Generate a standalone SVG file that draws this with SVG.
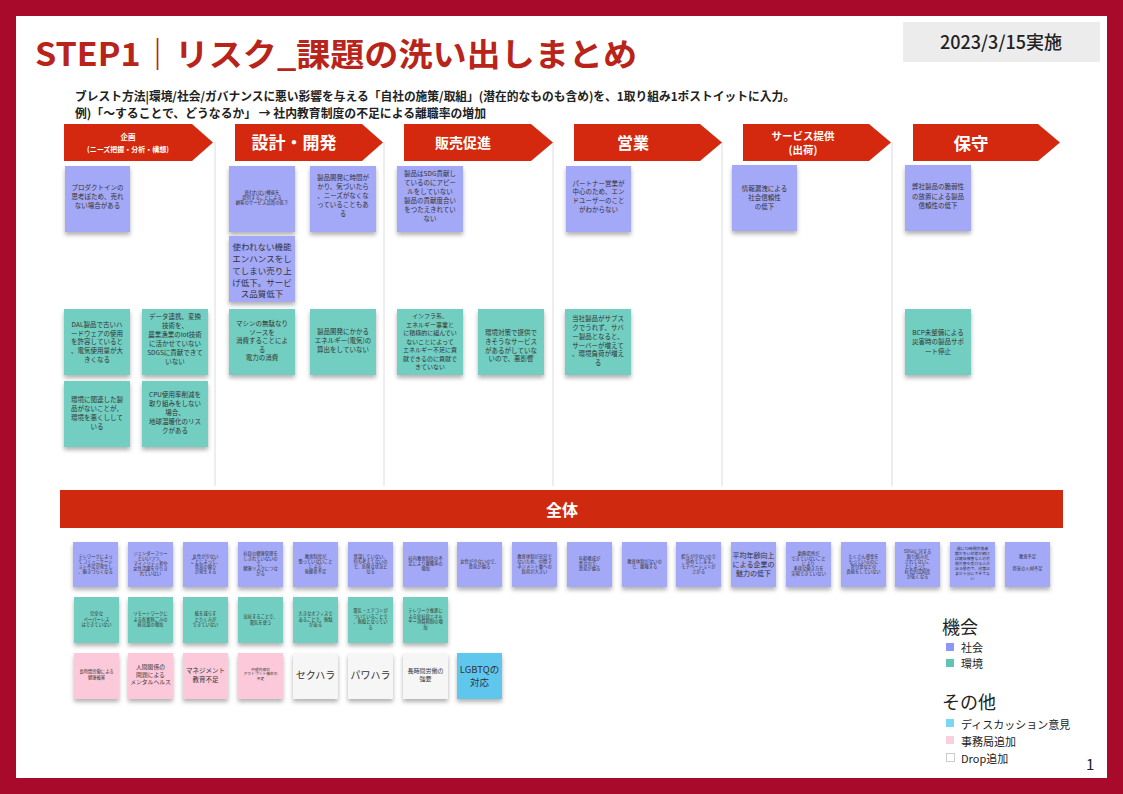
<svg xmlns="http://www.w3.org/2000/svg" width="1123" height="794" viewBox="0 0 1123 794">
<style>
text{font-family:"Noto Sans CJK JP","Noto Sans",sans-serif}
.hd{fill:#fff;font-weight:bold;text-anchor:middle}
.nt{fill:#333;text-anchor:middle;font-size:6.5px}
.xs{font-size:4.3px}
.pu{fill:#a3a8f7}
.te{fill:#71cec0}
.pk{fill:#fbc9da}
.wh{fill:#f6f6f6}
.bl{fill:#5ec7ee}
.arrow{fill:#d4290e}
.div{stroke:#dcdcdc;stroke-width:1}
.lg{fill:#222;font-size:11px}
</style>
<defs>
<filter id="sh" x="-20%" y="-20%" width="140%" height="150%">
<feDropShadow dx="0" dy="3" stdDeviation="2" flood-color="#000" flood-opacity="0.3"/>
</filter>
</defs>
<rect width="1123" height="794" fill="#a70a2b"/>
<rect x="16" y="16" width="1091" height="762" fill="#fff"/>
<text x="35" y="66" font-size="32" font-weight="bold" fill="#b8231a" textLength="602" lengthAdjust="spacingAndGlyphs">STEP1｜リスク_課題の洗い出しまとめ</text>
<rect x="903" y="22" width="197" height="40" fill="#ececec"/>
<text x="1001" y="49" font-size="18" font-weight="500" fill="#222" text-anchor="middle">2023/3/15実施</text>
<text x="75" y="101" font-size="12" font-weight="bold" fill="#222" textLength="720" lengthAdjust="spacingAndGlyphs">ブレスト方法|環境/社会/ガバナンスに悪い影響を与える「自社の施策/取組」(潜在的なものも含め)を、1取り組み1ポストイットに入力。</text>
<text x="75" y="118" font-size="12" font-weight="bold" fill="#222" textLength="411" lengthAdjust="spacingAndGlyphs">例)「〜することで、どうなるか」 → 社内教育制度の不足による離職率の増加</text>

<g id="dividers">
<line class="div" x1="215" y1="142" x2="215" y2="486"/>
<line class="div" x1="384" y1="142" x2="384" y2="486"/>
<line class="div" x1="553" y1="142" x2="553" y2="486"/>
<line class="div" x1="722" y1="142" x2="722" y2="486"/>
<line class="div" x1="892" y1="142" x2="892" y2="486"/>
</g>

<g id="phase1"><path class="arrow" d="M64,124H192L213,142.5L192,161H64Z"/><text class="hd" x="128" y="140" font-size="7.5">企画</text><text class="hd" x="128" y="152" font-size="7">(ニーズ把握・分析・構想)</text></g>
<g id="phase2"><path class="arrow" d="M235,124H362L383,142.5L362,161H235Z"/><text class="hd" x="294" y="149" font-size="17">設計・開発</text></g>
<g id="phase3"><path class="arrow" d="M404,124H531L553,142.5L531,161H404Z"/><text class="hd" x="463" y="148" font-size="14">販売促進</text></g>
<g id="phase4"><path class="arrow" d="M574,124H700L722,142.5L700,161H574Z"/><text class="hd" x="633" y="149" font-size="16">営業</text></g>
<g id="phase5"><path class="arrow" d="M743,124H869L891,142.5L869,161H743Z"/><text class="hd" x="803" y="140" font-size="10.5">サービス提供</text><text class="hd" x="803" y="154" font-size="10.5">(出荷)</text></g>
<g id="phase6"><path class="arrow" d="M913,124H1038L1060,142.5L1038,161H913Z"/><text class="hd" x="971" y="150" font-size="17.5">保守</text></g>

<g id="p1"><rect class="pu" x="65" y="166" width="65" height="66" filter="url(#sh)"/><text class="nt"><tspan x="97.5" y="190">プロダクトインの</tspan><tspan x="97.5" y="199">思考ぽため、売れ</tspan><tspan x="97.5" y="208">ない場合がある</tspan></text></g>
<g id="p2"><rect class="pu" x="229" y="166" width="66" height="66" filter="url(#sh)"/><text class="nt" style="font-size:4.4px"><tspan x="262" y="193.5">使われない機能を</tspan><tspan x="262" y="198.5">提供することによる</tspan><tspan x="262" y="203.5">顧客のサービス品質の低下</tspan></text></g>
<g id="p3"><rect class="pu" x="310" y="166" width="66" height="66" filter="url(#sh)"/><text class="nt"><tspan x="343" y="180">製品開発に時間が</tspan><tspan x="343" y="189">かり、気づいたら</tspan><tspan x="343" y="198">、ニーズがなくな</tspan><tspan x="343" y="207">っていることもあ</tspan><tspan x="343" y="216">る</tspan></text></g>
<g id="p4"><rect class="pu" x="229" y="236" width="66" height="66" filter="url(#sh)"/><text class="nt" style="font-size:8.5px"><tspan x="262" y="250">使われない機能</tspan><tspan x="262" y="262">エンハンスをし</tspan><tspan x="262" y="274">てしまい売り上</tspan><tspan x="262" y="286">げ低下。サービ</tspan><tspan x="262" y="297">ス品質低下</tspan></text></g>
<g id="p5"><rect class="pu" x="397" y="166" width="66" height="66" filter="url(#sh)"/><text class="nt"><tspan x="430" y="175.5">製品はSDG貢献し</tspan><tspan x="430" y="184.5">ているのにアピー</tspan><tspan x="430" y="193.5">ルをしていない</tspan><tspan x="430" y="202.5">製品の貢献度合い</tspan><tspan x="430" y="211.5">をつたえきれてい</tspan><tspan x="430" y="220.5">ない</tspan></text></g>
<g id="p6"><rect class="pu" x="566" y="166" width="65" height="66" filter="url(#sh)"/><text class="nt"><tspan x="598.5" y="185.5">パートナー営業が</tspan><tspan x="598.5" y="194.3">中心のため、エン</tspan><tspan x="598.5" y="203">ドユーザーのこと</tspan><tspan x="598.5" y="211.7">がわからない</tspan></text></g>
<g id="p7"><rect class="pu" x="732" y="165" width="65" height="66" filter="url(#sh)"/><text class="nt"><tspan x="764.5" y="191">情報漏洩による</tspan><tspan x="764.5" y="200">社会信頼性</tspan><tspan x="764.5" y="209">の低下</tspan></text></g>
<g id="p8"><rect class="pu" x="905" y="165" width="66" height="66" filter="url(#sh)"/><text class="nt"><tspan x="938" y="189">弊社製品の脆弱性</tspan><tspan x="938" y="198.5">の放置による製品</tspan><tspan x="938" y="208">信頼性の低下</tspan></text></g>

<g id="t1"><rect class="te" x="64" y="309" width="66" height="66" filter="url(#sh)"/><text class="nt"><tspan x="97" y="327">DAL製品で古いハ</tspan><tspan x="97" y="335.7">ードウェアの使用</tspan><tspan x="97" y="344.4">を許容していると</tspan><tspan x="97" y="353.1">、電気使用量が大</tspan><tspan x="97" y="361.8">きくなる</tspan></text></g>
<g id="t2"><rect class="te" x="142" y="309" width="66" height="66" filter="url(#sh)"/><text class="nt"><tspan x="175" y="319">データ連携、変換</tspan><tspan x="175" y="328">技術を、</tspan><tspan x="175" y="337">農業漁業のIot技術</tspan><tspan x="175" y="346">に活かせていない</tspan><tspan x="175" y="355">SDGSに貢献できて</tspan><tspan x="175" y="364">いない</tspan></text></g>
<g id="t3"><rect class="te" x="64" y="381" width="66" height="66" filter="url(#sh)"/><text class="nt"><tspan x="97" y="402">環境に関連した製</tspan><tspan x="97" y="411">品がないことが、</tspan><tspan x="97" y="420">環境を悪くしして</tspan><tspan x="97" y="429">いる</tspan></text></g>
<g id="t4"><rect class="te" x="142" y="381" width="66" height="66" filter="url(#sh)"/><text class="nt"><tspan x="175" y="397">CPU使用率削減を</tspan><tspan x="175" y="406">取り組みをしない</tspan><tspan x="175" y="415">場合、</tspan><tspan x="175" y="424">地球温暖化のリス</tspan><tspan x="175" y="433">クがある</tspan></text></g>
<g id="t5"><rect class="te" x="229" y="309" width="66" height="66" filter="url(#sh)"/><text class="nt"><tspan x="262" y="326">マシンの無駄なり</tspan><tspan x="262" y="334.5">ソースを</tspan><tspan x="262" y="343">消費することによ</tspan><tspan x="262" y="351.5">る</tspan><tspan x="262" y="360">電力の消費</tspan></text></g>
<g id="t6"><rect class="te" x="310" y="309" width="66" height="66" filter="url(#sh)"/><text class="nt"><tspan x="343" y="334">製品開発にかかる</tspan><tspan x="343" y="343">エネルギー(電気)の</tspan><tspan x="343" y="352">算出をしていない</tspan></text></g>
<g id="t7"><rect class="te" x="397" y="309" width="66" height="66" filter="url(#sh)"/><text class="nt" style="font-size:6px"><tspan x="430" y="318">インフラ系、</tspan><tspan x="430" y="326.5">エネルギー事業と</tspan><tspan x="430" y="335">に積極的に組んでい</tspan><tspan x="430" y="343.5">ないことによって</tspan><tspan x="430" y="352">エネルギー不足に貢</tspan><tspan x="430" y="360.5">献できるのに貢献で</tspan><tspan x="430" y="369">きていない</tspan></text></g>
<g id="t8"><rect class="te" x="478" y="309" width="66" height="66" filter="url(#sh)"/><text class="nt"><tspan x="511" y="335">環境対策で提供で</tspan><tspan x="511" y="344">きそうなサービス</tspan><tspan x="511" y="352.5">があるがしていな</tspan><tspan x="511" y="361">いので、悪影響</tspan></text></g>
<g id="t9"><rect class="te" x="565" y="309" width="66" height="66" filter="url(#sh)"/><text class="nt"><tspan x="598" y="321">当社製品がサブス</tspan><tspan x="598" y="330">クでうれず、サバ</tspan><tspan x="598" y="339">ー製品となると、</tspan><tspan x="598" y="347.5">サーバーが増えて</tspan><tspan x="598" y="356">、環境負荷が増え</tspan><tspan x="598" y="365">る</tspan></text></g>
<g id="t10"><rect class="te" x="905" y="309" width="66" height="66" filter="url(#sh)"/><text class="nt"><tspan x="938" y="335">BCP未整備による</tspan><tspan x="938" y="344">災害時の製品サポ</tspan><tspan x="938" y="354">ート停止</tspan></text></g>

<g id="zentai"><rect x="60" y="490" width="1003" height="38" fill="#cf2a10"/><text class="hd" x="562" y="516" font-size="16">全体</text></g>

<g id="r1-1"><rect class="pu" x="73" y="542" width="45" height="45" filter="url(#sh)"/><text class="nt xs"><tspan x="95.5" y="557.5">テレワークによっ</tspan><tspan x="95.5" y="562.5">てコミュニケーシ</tspan><tspan x="95.5" y="567.5">ョン不足が発生し</tspan><tspan x="95.5" y="572.5">、働きづらくなる</tspan></text></g>
<g id="r1-2"><rect class="pu" x="128" y="542" width="45" height="45" filter="url(#sh)"/><text class="nt xs"><tspan x="150.5" y="555">ジェンダーフリー</tspan><tspan x="150.5" y="560">といいつつ、</tspan><tspan x="150.5" y="565">マイノリティ者や</tspan><tspan x="150.5" y="570">女性活躍を守りき</tspan><tspan x="150.5" y="575">れていない</tspan></text></g>
<g id="r1-3"><rect class="pu" x="183" y="542" width="45" height="45" filter="url(#sh)"/><text class="nt xs"><tspan x="205.5" y="557.5">女性が少ない</tspan><tspan x="205.5" y="562.5">ことによって、</tspan><tspan x="205.5" y="567.5">意見の偏り</tspan><tspan x="205.5" y="572.5">が発生する</tspan></text></g>
<g id="r1-4"><rect class="pu" x="238" y="542" width="45" height="45" filter="url(#sh)"/><text class="nt xs"><tspan x="260.5" y="555">社員の健康管理を</tspan><tspan x="260.5" y="560">しきれていないの</tspan><tspan x="260.5" y="565">で、</tspan><tspan x="260.5" y="570">健康リスクにつな</tspan><tspan x="260.5" y="575">がる</tspan></text></g>
<g id="r1-5"><rect class="pu" x="293" y="542" width="45" height="45" filter="url(#sh)"/><text class="nt xs"><tspan x="315.5" y="557.5">教育制度が</tspan><tspan x="315.5" y="562.5">整っていないこと</tspan><tspan x="315.5" y="567.5">による</tspan><tspan x="315.5" y="572.5">後継者不足</tspan></text></g>
<g id="r1-6"><rect class="pu" x="348" y="542" width="45" height="45" filter="url(#sh)"/><text class="nt xs"><tspan x="370.5" y="557.5">意識していない、</tspan><tspan x="370.5" y="562.5">何も考えてないの</tspan><tspan x="370.5" y="567.5">で、危険な状況と</tspan><tspan x="370.5" y="572.5">なる</tspan></text></g>
<g id="r1-7"><rect class="pu" x="403" y="542" width="45" height="45" filter="url(#sh)"/><text class="nt xs"><tspan x="425.5" y="560">社内教育制度の不</tspan><tspan x="425.5" y="565">足により離職率の</tspan><tspan x="425.5" y="570">増加</tspan></text></g>
<g id="r1-8"><rect class="pu" x="457" y="542" width="45" height="45" filter="url(#sh)"/><text class="nt xs"><tspan x="479.5" y="562.5">女性が少ないので、</tspan><tspan x="479.5" y="567.5">意見が偏る</tspan></text></g>
<g id="r1-9"><rect class="pu" x="512" y="542" width="45" height="45" filter="url(#sh)"/><text class="nt xs"><tspan x="534.5" y="557.5">教育体制が充分で</tspan><tspan x="534.5" y="562.5">ないため、中間マ</tspan><tspan x="534.5" y="567.5">ネジメント層への</tspan><tspan x="534.5" y="572.5">負荷が大きい</tspan></text></g>
<g id="r1-10"><rect class="pu" x="567" y="542" width="45" height="45" filter="url(#sh)"/><text class="nt xs"><tspan x="589.5" y="560">年齢構成が</tspan><tspan x="589.5" y="565">歪なので、</tspan><tspan x="589.5" y="570">意見が偏る</tspan></text></g>
<g id="r1-11"><rect class="pu" x="622" y="542" width="45" height="45" filter="url(#sh)"/><text class="nt xs"><tspan x="644.5" y="562.5">教育体制がないの</tspan><tspan x="644.5" y="567.5">で、離職する</tspan></text></g>
<g id="r1-12"><rect class="pu" x="676" y="542" width="45" height="45" filter="url(#sh)"/><text class="nt xs"><tspan x="698.5" y="557.5">給与が少ないので</tspan><tspan x="698.5" y="562.5">、辞めてします。</tspan><tspan x="698.5" y="567.5">モチベーションが</tspan><tspan x="698.5" y="572.5">さがる</tspan></text></g>
<g id="r1-13"><rect class="pu" x="731" y="542" width="45" height="45" filter="url(#sh)"/><text class="nt" style="font-size:7px"><tspan x="753.5" y="558">平均年齢向上</tspan><tspan x="753.5" y="567">による企業の</tspan><tspan x="753.5" y="576">魅力の低下</tspan></text></g>
<g id="r1-14"><rect class="pu" x="786" y="542" width="45" height="45" filter="url(#sh)"/><text class="nt xs"><tspan x="808.5" y="555">勤務場所が</tspan><tspan x="808.5" y="560">できていないこと</tspan><tspan x="808.5" y="565">により</tspan><tspan x="808.5" y="570">多様な働き方を</tspan><tspan x="808.5" y="575">実現できていない</tspan></text></g>
<g id="r1-15"><rect class="pu" x="841" y="542" width="45" height="45" filter="url(#sh)"/><text class="nt xs"><tspan x="863.5" y="557.5">たくさん資金を</tspan><tspan x="863.5" y="562.5">もっているのに</tspan><tspan x="863.5" y="567.5">寄付金などの</tspan><tspan x="863.5" y="572.5">貢献をしていない</tspan></text></g>
<g id="r1-16"><rect class="pu" x="895" y="542" width="45" height="45" filter="url(#sh)"/><text class="nt xs"><tspan x="917.5" y="552.5">SDGsに対する</tspan><tspan x="917.5" y="557.5">取り組みが</tspan><tspan x="917.5" y="562.5">されてないこ</tspan><tspan x="917.5" y="567.5">とによって、</tspan><tspan x="917.5" y="572.5">社会的認知度</tspan><tspan x="917.5" y="577.5">が低くなる</tspan></text></g>
<g id="r1-17"><rect class="pu" x="950" y="542" width="45" height="45" filter="url(#sh)"/><text class="nt" style="font-size:3.9px"><tspan x="972.5" y="550">週に72時間労働者</tspan><tspan x="972.5" y="555">数が多い状態が続け</tspan><tspan x="972.5" y="560">ば健康被害などの労</tspan><tspan x="972.5" y="565">働災害を受ける人が</tspan><tspan x="972.5" y="570">出る懸念で、対策は</tspan><tspan x="972.5" y="575">まだ十分にできてな</tspan><tspan x="972.5" y="580">い</tspan></text></g>
<g id="r1-18"><rect class="pu" x="1005" y="542" width="45" height="45" filter="url(#sh)"/><text class="nt xs"><tspan x="1027.5" y="557.5">教育不足</tspan><tspan x="1027.5" y="570">将来の人材不足</tspan></text></g>

<g id="r2-1"><rect class="te" x="74" y="597" width="45" height="46" filter="url(#sh)"/><text class="nt xs"><tspan x="96.5" y="615">完全な</tspan><tspan x="96.5" y="620.5">ペーパーレス</tspan><tspan x="96.5" y="626">はできていない</tspan></text></g>
<g id="r2-2"><rect class="te" x="128" y="597" width="45" height="46" filter="url(#sh)"/><text class="nt xs"><tspan x="150.5" y="615">リモートワークに</tspan><tspan x="150.5" y="620.5">よる各家庭ごみの</tspan><tspan x="150.5" y="626">排出量の増加</tspan></text></g>
<g id="r2-3"><rect class="te" x="183" y="597" width="45" height="46" filter="url(#sh)"/><text class="nt xs"><tspan x="205.5" y="615">紙を減らす</tspan><tspan x="205.5" y="620.5">とりくみが</tspan><tspan x="205.5" y="626">できていない</tspan></text></g>
<g id="r2-4"><rect class="te" x="238" y="597" width="45" height="46" filter="url(#sh)"/><text class="nt xs"><tspan x="260.5" y="618">出社することで、</tspan><tspan x="260.5" y="623.5">電気を使う</tspan></text></g>
<g id="r2-5"><rect class="te" x="293" y="597" width="45" height="46" filter="url(#sh)"/><text class="nt xs"><tspan x="315.5" y="615">大きなオフィスで</tspan><tspan x="315.5" y="620.5">あることで、無駄</tspan><tspan x="315.5" y="626">がある</tspan></text></g>
<g id="r2-6"><rect class="te" x="348" y="597" width="45" height="46" filter="url(#sh)"/><text class="nt xs"><tspan x="370.5" y="612">電気・エアコンが</tspan><tspan x="370.5" y="617.5">ついていることで</tspan><tspan x="370.5" y="623">、無駄となってい</tspan><tspan x="370.5" y="628.5">る</tspan></text></g>
<g id="r2-7"><rect class="te" x="403" y="597" width="45" height="46" filter="url(#sh)"/><text class="nt xs"><tspan x="425.5" y="612">テレワーク推進に</tspan><tspan x="425.5" y="617.5">よる全社員エネル</tspan><tspan x="425.5" y="623">ギー消費抑制の増</tspan><tspan x="425.5" y="628.5">加</tspan></text></g>

<g id="r3-1"><rect class="pk" x="74" y="653" width="45" height="46" filter="url(#sh)"/><text class="nt xs"><tspan x="96.5" y="673">長時間労働による</tspan><tspan x="96.5" y="679">健康被害</tspan></text></g>
<g id="r3-2"><rect class="pk" x="128" y="653" width="45" height="46" filter="url(#sh)"/><text class="nt" style="font-size:5.8px"><tspan x="150.5" y="669">人間関係の</tspan><tspan x="150.5" y="676.5">問題による</tspan><tspan x="150.5" y="684">メンタルヘルス</tspan></text></g>
<g id="r3-3"><rect class="pk" x="183" y="653" width="45" height="46" filter="url(#sh)"/><text class="nt" style="font-size:6.5px"><tspan x="205.5" y="673">マネジメント</tspan><tspan x="205.5" y="681.5">教育不足</tspan></text></g>
<g id="r3-4"><rect class="pk" x="238" y="653" width="45" height="46" filter="url(#sh)"/><text class="nt" style="font-size:3.8px"><tspan x="260.5" y="670.5">中堅内部の</tspan><tspan x="260.5" y="675">アウトプット機会の</tspan><tspan x="260.5" y="679.5">不足</tspan></text></g>
<g id="r3-5"><rect class="wh" x="293" y="653" width="45" height="46" filter="url(#sh)"/><text class="nt" style="font-size:10px" x="315.5" y="679">セクハラ</text></g>
<g id="r3-6"><rect class="wh" x="348" y="653" width="45" height="46" filter="url(#sh)"/><text class="nt" style="font-size:10px" x="370.5" y="679">パワハラ</text></g>
<g id="r3-7"><rect class="wh" x="403" y="653" width="45" height="46" filter="url(#sh)"/><text class="nt" style="font-size:6px"><tspan x="425.5" y="673">長時間労働の</tspan><tspan x="425.5" y="681">強要</tspan></text></g>
<g id="r3-8"><rect class="bl" x="457" y="653" width="45" height="46" filter="url(#sh)"/><text class="nt" style="font-size:9.5px"><tspan x="479.5" y="673">LGBTQの</tspan><tspan x="479.5" y="686">対応</tspan></text></g>

<g id="legend">
<text x="942" y="634" font-size="18" fill="#222">機会</text>
<rect x="946" y="643" width="8" height="8" fill="#8e96f7"/><text class="lg" x="961" y="652">社会</text>
<rect x="946" y="659" width="8" height="8" fill="#5fc3b5"/><text class="lg" x="961" y="668">環境</text>
<text x="942" y="709" font-size="18" fill="#222">その他</text>
<rect x="946" y="719" width="8" height="8" fill="#7ad6f4"/><text class="lg" x="961" y="729">ディスカッション意見</text>
<rect x="946" y="736" width="8" height="8" fill="#fbd0dd"/><text class="lg" x="961" y="746">事務局追加</text>
<rect x="946.5" y="753.5" width="8" height="8" fill="#fff" stroke="#ccc" stroke-width="1"/><text class="lg" x="961" y="763">Drop追加</text>
</g>
<text x="1086" y="770" font-size="15" fill="#222">1</text>
</svg>
